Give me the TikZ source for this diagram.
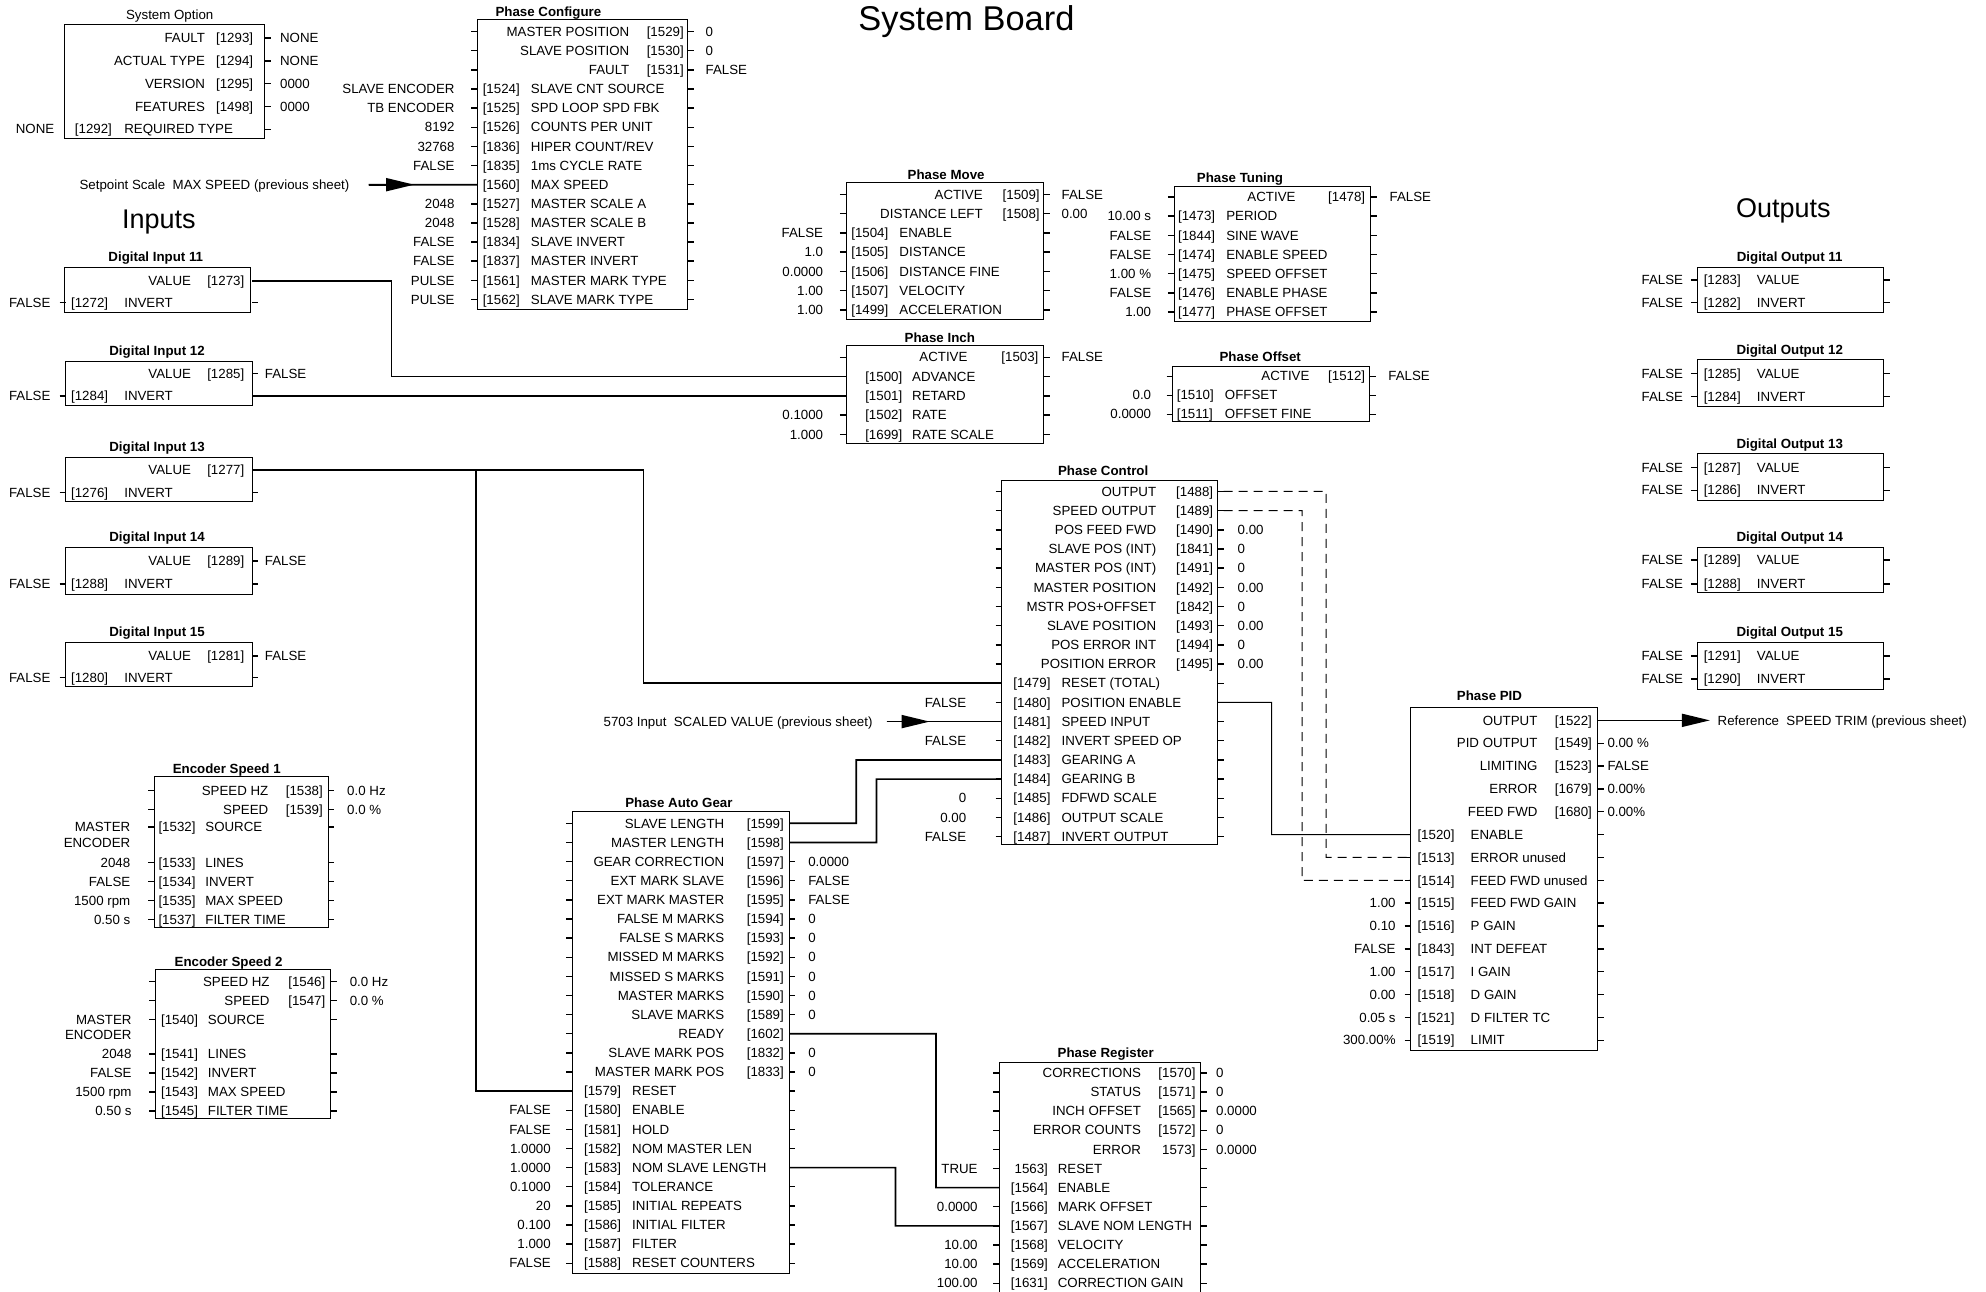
\documentclass[tikz,border=0pt]{standalone}
\usepackage{fontspec}
\setmainfont{Liberation Sans}
\usetikzlibrary{arrows.meta,fit}
\newif\ifzzlt
\newif\ifzzil
\newcommand\zzset[8]{\def\zzL{#1}\def\zzR{#2}\def\zzN{#3}\def\zzI{#4}\def\zzO{#5}\def\zzV{#6}\def\zzi{#7}\def\zzn{#8}}
\newcommand\zzrows[2]{\def\zzB{#1}\def\zzS{#2}}
\newcommand\zzbox[8]{%
  \node[box,fit={(#2,#3) (#4,#5)}] (#1) {};
  \node[ttl,anchor=base] (#1t) at (#7,#8+3.7) {#6};}
\newcommand\zzOR[5]{%
  \pgfmathsetmacro\zzy{\zzB+\zzS*#2}%
  \pgfmathsetmacro\zzb{\zzy+3.7}%
  \coordinate (#1wl) at (\zzL,\zzy);
  \coordinate (#1er) at (\zzR,\zzy);
  \coordinate (#1L) at (\zzL-5,\zzy);
  \coordinate (#1R) at (\zzR+5,\zzy);
  \node[txt,anchor=base east] (#1n) at (\zzN,\zzb) {#3};
  \node[txt,anchor=base east] (#1i) at (\zzI,\zzb) {#4};
  \draw[tk] (#1er) -- (#1R);
  \ifzzlt\draw[tk] (#1L) -- (#1wl);\fi
  \if\relax\detokenize{#5}\relax\else\node[txt,anchor=base west] (#1v) at (\zzO,\zzb) {#5};\fi
}
\newcommand\zzIR[5]{%
  \pgfmathsetmacro\zzy{\zzB+\zzS*#2}%
  \pgfmathsetmacro\zzb{\zzy+3.7}%
  \coordinate (#1wl) at (\zzL,\zzy);
  \coordinate (#1er) at (\zzR,\zzy);
  \coordinate (#1L) at (\zzL-5,\zzy);
  \coordinate (#1R) at (\zzR+5,\zzy);
  \if\relax\detokenize{#3}\relax\else\node[txt,anchor=base east] (#1v) at (\zzV,\zzb) {#3};\fi
  \ifzzil\draw[tk] (#1L) -- (#1wl);\fi
  \node[txt,anchor=base west] (#1i) at (\zzi,\zzb) {#4};
  \node[txt,anchor=base west] (#1n) at (\zzn,\zzb) {#5};
  \draw[tk] (#1er) -- (#1R);
}
\begin{document}
\begin{tikzpicture}[x=1.26658pt,y=-1.26667pt,
  txt/.style={inner sep=0pt,font=\fontsize{13.3}{15}\selectfont},
  ttl/.style={inner sep=0pt,font=\bfseries\fontsize{13.3}{15}\selectfont},
  big/.style={inner sep=0pt,font=\fontsize{27}{30}\selectfont},
  box/.style={draw,line width=1pt,inner sep=0pt},
  tk/.style={line width=1.4pt},
  wire/.style={line width=1.7pt},
  thinwire/.style={line width=1pt},
  dwire/.style={line width=1pt,dash pattern=on 9pt off 6pt},
  bigtip/.style={-{Triangle[length=28pt,width=13pt]}}]
\useasboundingbox (0,0) rectangle (1568,1020);

% titles
\node[inner sep=0pt,font=\fontsize{34.4}{38}\selectfont,anchor=base] (sbt) at (763,23.8) {System Board};
\node[big,anchor=base] (tin) at (125.5,180) {Inputs};
\node[big,anchor=base] (tout) at (1408,172) {Outputs};

% System Option
\node[box,fit={(51,19) (209,109)}] (so) {};
\node[txt,anchor=base] (sot) at (134,15.7) {System Option};
\zzset{51}{209}{162}{200}{221}{43}{59}{98}\zzrows{30}{18}\zzltfalse\zzilfalse
\zzOR{so0}{0}{FAULT}{[1293]}{NONE}
\zzOR{so1}{1}{ACTUAL TYPE}{[1294]}{NONE}
\zzOR{so2}{2}{VERSION}{[1295]}{0000}
\zzOR{so3}{3}{FEATURES}{[1498]}{0000}
\zzIR{so4}{4}{NONE}{[1292]}{REQUIRED TYPE}

% Phase Configure
\zzlttrue\zziltrue
\zzbox{pcf}{377}{15}{543}{244}{Phase Configure}{433}{9.5}
\zzset{377}{543}{497}{540}{557}{359}{381}{419}\zzrows{25}{15.1}
\zzOR{pcf0}{0}{MASTER POSITION}{[1529]}{0}
\zzOR{pcf1}{1}{SLAVE POSITION}{[1530]}{0}
\zzOR{pcf2}{2}{FAULT}{[1531]}{FALSE}
\zzIR{pcf3}{3}{SLAVE ENCODER}{[1524]}{SLAVE CNT SOURCE}
\zzIR{pcf4}{4}{TB ENCODER}{[1525]}{SPD LOOP SPD FBK}
\zzIR{pcf5}{5}{8192}{[1526]}{COUNTS PER UNIT}
\zzIR{pcf6}{6}{32768}{[1836]}{HIPER COUNT/REV}
\zzIR{pcf7}{7}{FALSE}{[1835]}{1ms CYCLE RATE}
\zzIR{pcf8}{8}{}{[1560]}{MAX SPEED}
\zzIR{pcf9}{9}{2048}{[1527]}{MASTER SCALE A}
\zzIR{pcf10}{10}{2048}{[1528]}{MASTER SCALE B}
\zzIR{pcf11}{11}{FALSE}{[1834]}{SLAVE INVERT}
\zzIR{pcf12}{12}{FALSE}{[1837]}{MASTER INVERT}
\zzIR{pcf13}{13}{PULSE}{[1561]}{MASTER MARK TYPE}
\zzIR{pcf14}{14}{PULSE}{[1562]}{SLAVE MARK TYPE}

% Setpoint arrow
\node[txt,anchor=base east] (tsp) at (276,149.5) {Setpoint Scale~~MAX SPEED (previous sheet)};
\coordinate (sps) at (291,145.8);
\coordinate (spt) at (327,145.8);
\draw[wire] (sps) -- (pcf8wl);
\draw[wire,bigtip] (sps) -- (spt);

% Phase Move
\zzbox{pm}{668}{144}{824}{252}{Phase Move}{747}{138}
\zzset{668}{824}{776}{821}{838}{650}{672}{710}\zzrows{153.5}{15.2}
\zzOR{pm0}{0}{ACTIVE}{[1509]}{FALSE}
\zzOR{pm1}{1}{DISTANCE LEFT}{[1508]}{0.00}
\zzIR{pm2}{2}{FALSE}{[1504]}{ENABLE}
\zzIR{pm3}{3}{1.0}{[1505]}{DISTANCE}
\zzIR{pm4}{4}{0.0000}{[1506]}{DISTANCE FINE}
\zzIR{pm5}{5}{1.00}{[1507]}{VELOCITY}
\zzIR{pm6}{6}{1.00}{[1499]}{ACCELERATION}

% Phase Inch
\zzbox{pi}{668}{273}{824}{350}{Phase Inch}{742}{267}
\zzset{668}{824}{764}{820}{838}{650}{683}{720}\zzrows{282}{15.25}
\zzOR{pi0}{0}{ACTIVE}{[1503]}{FALSE}
\zzIR{pi1}{1}{}{[1500]}{ADVANCE}
\zzIR{pi2}{2}{}{[1501]}{RETARD}
\zzIR{pi3}{3}{0.1000}{[1502]}{RATE}
\zzIR{pi4}{4}{1.000}{[1699]}{RATE SCALE}

% Phase Tuning
\zzbox{pt}{927}{147}{1082}{254}{Phase Tuning}{979}{140}
\zzset{927}{1082}{1023}{1078}{1097}{909}{930}{968}\zzrows{155.5}{15.15}
\zzOR{pt0}{0}{ACTIVE}{[1478]}{FALSE}
\zzIR{pt1}{1}{10.00 s}{[1473]}{PERIOD}
\zzIR{pt2}{2}{FALSE}{[1844]}{SINE WAVE}
\zzIR{pt3}{3}{FALSE}{[1474]}{ENABLE SPEED}
\zzIR{pt4}{4}{1.00 \%}{[1475]}{SPEED OFFSET}
\zzIR{pt5}{5}{FALSE}{[1476]}{ENABLE PHASE}
\zzIR{pt6}{6}{1.00}{[1477]}{PHASE OFFSET}

% Phase Offset
\zzbox{po}{926}{289}{1081}{333}{Phase Offset}{995}{281.5}
\zzset{926}{1081}{1034}{1078}{1096}{909}{929}{967}\zzrows{297}{15}
\zzOR{po0}{0}{ACTIVE}{[1512]}{FALSE}
\zzIR{po1}{1}{0.0}{[1510]}{OFFSET}
\zzIR{po2}{2}{0.0000}{[1511]}{OFFSET FINE}

% Phase Control
\zzbox{pc}{791}{379.5}{961}{667}{Phase Control}{871}{372}
\zzset{791}{961}{913}{958}{977}{763}{800}{838}\zzrows{388}{15.14}
\zzOR{pc0}{0}{OUTPUT}{[1488]}{}
\zzOR{pc1}{1}{SPEED OUTPUT}{[1489]}{}
\zzOR{pc2}{2}{POS FEED FWD}{[1490]}{0.00}
\zzOR{pc3}{3}{SLAVE POS (INT)}{[1841]}{0}
\zzOR{pc4}{4}{MASTER POS (INT)}{[1491]}{0}
\zzOR{pc5}{5}{MASTER POSITION}{[1492]}{0.00}
\zzOR{pc6}{6}{MSTR POS+OFFSET}{[1842]}{0}
\zzOR{pc7}{7}{SLAVE POSITION}{[1493]}{0.00}
\zzOR{pc8}{8}{POS ERROR INT}{[1494]}{0}
\zzOR{pc9}{9}{POSITION ERROR}{[1495]}{0.00}
\zzIR{pc10}{10}{}{[1479]}{RESET (TOTAL)}
\zzIR{pc11}{11}{FALSE}{[1480]}{POSITION ENABLE}
\zzIR{pc12}{12}{}{[1481]}{SPEED INPUT}
\zzIR{pc13}{13}{FALSE}{[1482]}{INVERT SPEED OP}
\zzIR{pc14}{14}{}{[1483]}{GEARING A}
\zzIR{pc15}{15}{}{[1484]}{GEARING B}
\zzIR{pc16}{16}{0}{[1485]}{FDFWD SCALE}
\zzIR{pc17}{17}{0.00}{[1486]}{OUTPUT SCALE}
\zzIR{pc18}{18}{FALSE}{[1487]}{INVERT OUTPUT}

% 5703 arrow
\node[txt,anchor=base east] (t5703) at (689,573.4) {5703 Input~~SCALED VALUE (previous sheet)};
\coordinate (a5s) at (700,569.68);
\coordinate (a5t) at (734,569.68);
\draw[wire] (a5s) -- (pc12wl);
\draw[wire,bigtip] (a5s) -- (a5t);

% Phase PID
\zzltfalse
\zzbox{pid}{1114}{558.5}{1261}{829}{Phase PID}{1176}{549.5}
\zzset{1114}{1261}{1214}{1257}{1269}{1102}{1119}{1161}\zzrows{568.7}{18.04}
\zzOR{pid0}{0}{OUTPUT}{[1522]}{}
\zzOR{pid1}{1}{PID OUTPUT}{[1549]}{0.00 \%}
\zzOR{pid2}{2}{LIMITING}{[1523]}{FALSE}
\zzOR{pid3}{3}{ERROR}{[1679]}{0.00\%}
\zzOR{pid4}{4}{FEED FWD}{[1680]}{0.00\%}
\zzIR{pid5}{5}{}{[1520]}{ENABLE}
\zzIR{pid6}{6}{}{[1513]}{ERROR unused}
\zzIR{pid7}{7}{}{[1514]}{FEED FWD unused}
\zzIR{pid8}{8}{1.00}{[1515]}{FEED FWD GAIN}
\zzIR{pid9}{9}{0.10}{[1516]}{P GAIN}
\zzIR{pid10}{10}{FALSE}{[1843]}{INT DEFEAT}
\zzIR{pid11}{11}{1.00}{[1517]}{I GAIN}
\zzIR{pid12}{12}{0.00}{[1518]}{D GAIN}
\zzIR{pid13}{13}{0.05 s}{[1521]}{D FILTER TC}
\zzIR{pid14}{14}{300.00\%}{[1519]}{LIMIT}

% reference arrow
\coordinate (reft) at (1350,568.7);
\draw[wire,bigtip] (pid0er) -- (reft);
\node[txt,anchor=base west] (tref) at (1356,572.4) {Reference~~SPEED TRIM (previous sheet)};

% Encoder Speed 1
\zzlttrue
\zzbox{e1}{122}{613}{259}{732}{Encoder Speed 1}{179}{607}
\zzset{122}{259}{212}{255}{274}{103}{125}{162}\zzrows{0}{1}
\zzOR{e1a}{624}{SPEED HZ}{[1538]}{0.0 Hz}
\zzOR{e1b}{639}{SPEED}{[1539]}{0.0 \%}
\zzIR{e1c}{653}{MASTER}{[1532]}{SOURCE}
\node[txt,anchor=base east] (e1x) at (103,668.7) {ENCODER};
\zzIR{e1d}{681}{2048}{[1533]}{LINES}
\zzIR{e1e}{696}{FALSE}{[1534]}{INVERT}
\zzIR{e1f}{711}{1500 rpm}{[1535]}{MAX SPEED}
\zzIR{e1g}{726}{0.50 s}{[1537]}{FILTER TIME}

% Encoder Speed 2
\zzbox{e2}{123}{765}{261}{883}{Encoder Speed 2}{180.5}{759}
\zzset{123}{261}{213}{257}{276}{104}{127}{164}\zzrows{0}{1}
\zzOR{e2a}{775}{SPEED HZ}{[1546]}{0.0 Hz}
\zzOR{e2b}{790}{SPEED}{[1547]}{0.0 \%}
\zzIR{e2c}{805}{MASTER}{[1540]}{SOURCE}
\node[txt,anchor=base east] (e2x) at (104,820.7) {ENCODER};
\zzIR{e2d}{832}{2048}{[1541]}{LINES}
\zzIR{e2e}{847}{FALSE}{[1542]}{INVERT}
\zzIR{e2f}{862}{1500 rpm}{[1543]}{MAX SPEED}
\zzIR{e2g}{877}{0.50 s}{[1545]}{FILTER TIME}

% Phase Auto Gear
\zzbox{pag}{452}{641}{623}{1005}{Phase Auto Gear}{536}{634}
\zzset{452}{623}{572}{619}{638}{435}{461}{499}\zzrows{650}{15.1}
\zzOR{pag0}{0}{SLAVE LENGTH}{[1599]}{}
\zzOR{pag1}{1}{MASTER LENGTH}{[1598]}{}
\zzOR{pag2}{2}{GEAR CORRECTION}{[1597]}{0.0000}
\zzOR{pag3}{3}{EXT MARK SLAVE}{[1596]}{FALSE}
\zzOR{pag4}{4}{EXT MARK MASTER}{[1595]}{FALSE}
\zzOR{pag5}{5}{FALSE M MARKS}{[1594]}{0}
\zzOR{pag6}{6}{FALSE S MARKS}{[1593]}{0}
\zzOR{pag7}{7}{MISSED M MARKS}{[1592]}{0}
\zzOR{pag8}{8}{MISSED S MARKS}{[1591]}{0}
\zzOR{pag9}{9}{MASTER MARKS}{[1590]}{0}
\zzOR{pag10}{10}{SLAVE MARKS}{[1589]}{0}
\zzOR{pag11}{11}{READY}{[1602]}{}
\zzOR{pag12}{12}{SLAVE MARK POS}{[1832]}{0}
\zzOR{pag13}{13}{MASTER MARK POS}{[1833]}{0}
\zzIR{pag14}{14}{}{[1579]}{RESET}
\zzIR{pag15}{15}{FALSE}{[1580]}{ENABLE}
\zzIR{pag16}{16}{FALSE}{[1581]}{HOLD}
\zzIR{pag17}{17}{1.0000}{[1582]}{NOM MASTER LEN}
\zzIR{pag18}{18}{1.0000}{[1583]}{NOM SLAVE LENGTH}
\zzIR{pag19}{19}{0.1000}{[1584]}{TOLERANCE}
\zzIR{pag20}{20}{20}{[1585]}{INITIAL REPEATS}
\zzIR{pag21}{21}{0.100}{[1586]}{INITIAL FILTER}
\zzIR{pag22}{22}{1.000}{[1587]}{FILTER}
\zzIR{pag23}{23}{FALSE}{[1588]}{RESET COUNTERS}

% Phase Register
\zzbox{preg}{789}{839}{948}{1030}{Phase Register}{873}{831}
\zzset{789}{948}{901}{944}{960}{772}{798}{835}\zzrows{847}{15.1}
\zzOR{preg0}{0}{CORRECTIONS}{[1570]}{0}
\zzOR{preg1}{1}{STATUS}{[1571]}{0}
\zzOR{preg2}{2}{INCH OFFSET}{[1565]}{0.0000}
\zzOR{preg3}{3}{ERROR COUNTS}{[1572]}{0}
\zzOR{preg4}{4}{ERROR}{1573]}{0.0000}
\zzIR{preg5}{5}{TRUE}{\phantom{[}1563]}{RESET}
\zzIR{preg6}{6}{}{[1564]}{ENABLE}
\zzIR{preg7}{7}{0.0000}{[1566]}{MARK OFFSET}
\zzIR{preg8}{8}{}{[1567]}{SLAVE NOM LENGTH}
\zzIR{preg9}{9}{10.00}{[1568]}{VELOCITY}
\zzIR{preg10}{10}{10.00}{[1569]}{ACCELERATION}
\zzIR{preg11}{11}{100.00}{[1631]}{CORRECTION GAIN}

% Digital inputs
\zzltfalse\zziltrue
\zzset{52}{199}{151}{193}{209}{40}{56}{98}\zzrows{0}{1}
\zzbox{di11}{51}{211}{198}{247}{Digital Input 11}{123}{203}
\zzOR{di11a}{222}{VALUE}{[1273]}{}
\zzIR{di11b}{239}{FALSE}{[1272]}{INVERT}
\zzbox{di12}{52}{285}{199}{320}{Digital Input 12}{124}{277}
\zzOR{di12a}{295}{VALUE}{[1285]}{FALSE}
\zzIR{di12b}{312.5}{FALSE}{[1284]}{INVERT}
\zzbox{di13}{52}{361}{199}{396}{Digital Input 13}{124}{353}
\zzOR{di13a}{371}{VALUE}{[1277]}{}
\zzIR{di13b}{389}{FALSE}{[1276]}{INVERT}
\zzbox{di14}{52}{432}{199}{469}{Digital Input 14}{124}{424}
\zzOR{di14a}{443}{VALUE}{[1289]}{FALSE}
\zzIR{di14b}{461}{FALSE}{[1288]}{INVERT}
\zzbox{di15}{52}{507}{199}{542}{Digital Input 15}{124}{499}
\zzOR{di15a}{518}{VALUE}{[1281]}{FALSE}
\zzIR{di15b}{535}{FALSE}{[1280]}{INVERT}

% Digital outputs
\zzset{1340}{1487}{0}{0}{0}{1329}{1345}{1387}\zzrows{0}{1}
\zzbox{do11}{1340}{211}{1487}{247}{Digital Output 11}{1413}{203}
\zzIR{do11a}{221}{FALSE}{[1283]}{VALUE}
\zzIR{do11b}{239}{FALSE}{[1282]}{INVERT}
\zzbox{do12}{1340}{284}{1487}{321}{Digital Output 12}{1413}{276}
\zzIR{do12a}{295}{FALSE}{[1285]}{VALUE}
\zzIR{do12b}{313}{FALSE}{[1284]}{INVERT}
\zzbox{do13}{1340}{358}{1487}{395}{Digital Output 13}{1413}{350}
\zzIR{do13a}{369}{FALSE}{[1287]}{VALUE}
\zzIR{do13b}{387}{FALSE}{[1286]}{INVERT}
\zzbox{do14}{1340}{432}{1487}{468}{Digital Output 14}{1413}{424}
\zzIR{do14a}{442}{FALSE}{[1289]}{VALUE}
\zzIR{do14b}{461}{FALSE}{[1288]}{INVERT}
\zzbox{do15}{1340}{507}{1487}{544}{Digital Output 15}{1413}{499}
\zzIR{do15a}{518}{FALSE}{[1291]}{VALUE}
\zzIR{do15b}{536}{FALSE}{[1290]}{INVERT}

% wires
\coordinate (j1) at (309,297.25);
\draw[wire] (di11aer) -| (j1) -- (pi1wl);
\draw[wire] (di12ber) -- (pi2wl);
\coordinate (j2) at (376,371);
\coordinate (j3) at (508,539.4);
\draw[wire] (di13aer) -| (j3) -- (pc10wl);
\draw[wire] (j2) |- (pag14wl);
\coordinate (jga) at (676,599.96);
\draw[wire] (pag0er) -| (jga) -- (pc14wl);
\coordinate (jgb) at (692,615.1);
\draw[wire] (pag1er) -| (jgb) -- (pc15wl);
\coordinate (jpe) at (1004,658.9);
\draw[thinwire] (pc11er) -| (jpe) -- (pid5wl);
\coordinate (jd1) at (1047,676.94);
\draw[dwire] (pc0R) -| (jd1) -- (pid6wl);
\coordinate (jd2) at (1028,694.98);
\draw[dwire] (pc1R) -| (jd2) -- (pid7wl);
\coordinate (jr) at (739,937.6);
\draw[wire] (pag11er) -| (jr) -- (preg6wl);
\coordinate (jn) at (707,967.8);
\draw[wire] (pag18er) -| (jn) -- (preg8wl);
\end{tikzpicture}
\end{document}
